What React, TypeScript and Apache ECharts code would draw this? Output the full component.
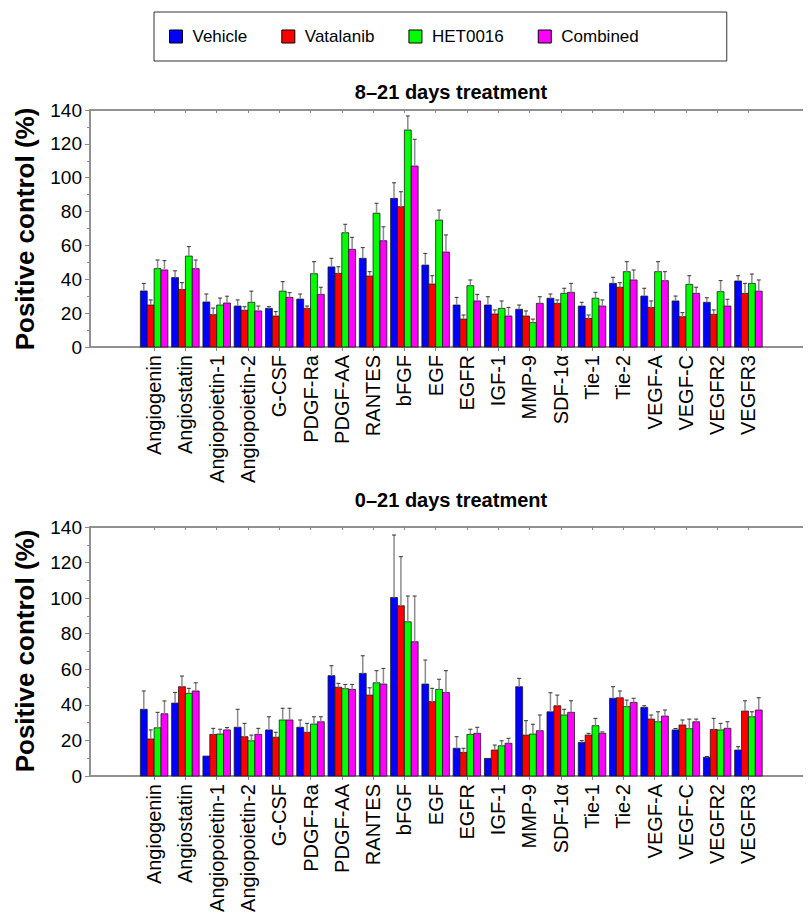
import React, { useEffect, useRef } from 'react';
import * as echarts from 'echarts';

const FONT = '"Liberation Sans", Arial, Helvetica, sans-serif';

const CATEGORIES = [
  'Angiogenin', 'Angiostatin', 'Angiopoietin-1', 'Angiopoietin-2', 'G-CSF',
  'PDGF-Ra', 'PDGF-AA', 'RANTES', 'bFGF', 'EGF', 'EGFR', 'IGF-1', 'MMP-9',
  'SDF-1\u03b1', 'Tie-1', 'Tie-2', 'VEGF-A', 'VEGF-C', 'VEGFR2', 'VEGFR3',
];

const SERIES_NAMES = ['Vehicle', 'Vatalanib', 'HET0016', 'Combined'];
const SERIES_COLORS = ['#0000ff', '#ff0000', '#00ff00', '#ff00ff'];

const TOP_TITLE = '8\u201321 days treatment';
const BOTTOM_TITLE = '0\u201321 days treatment';
const Y_NAME = 'Positive control (%)';

// 8–21 days treatment
const TOP_VEHICLE = [33.1, 41, 26.6, 24.2, 22.8, 28.3, 47.3, 52.4, 87.8, 48.4, 24.8, 24.8, 22.3, 28.8, 24.2, 37.6, 30.1, 27.2, 26.4, 39];
const TOP_VEHICLE_ERR = [4.5, 4, 4.7, 3.6, 1, 3, 5.1, 6.3, 9.2, 6.9, 4.5, 4.9, 2.5, 2.5, 2.2, 3.6, 4.6, 2.9, 2.7, 3.1];
const TOP_VATALANIB = [24.8, 34, 19.1, 21.7, 18.3, 22.8, 43.5, 41.9, 82.9, 37.2, 16.5, 19.5, 18.3, 25.8, 16.9, 35.3, 23.4, 17.9, 19.3, 31.7];
const TOP_VATALANIB_ERR = [3, 4, 3.9, 2.1, 2.6, 1.4, 3.9, 2.6, 8.8, 4.9, 2.4, 2.4, 3, 2, 2, 2.7, 3.8, 2.4, 2.6, 5.9];
const TOP_HET = [46.3, 53.7, 24.8, 26.4, 33, 43.3, 67.5, 79, 128.2, 75, 36.2, 22.8, 14.4, 31.7, 28.8, 44.5, 44.5, 37, 32.7, 37.6];
const TOP_HET_ERR = [5.1, 5.6, 4.1, 6.6, 5.6, 7.1, 5, 5.9, 8.3, 5.9, 3.4, 4.4, 2.1, 3, 3.5, 5.9, 5.9, 5.1, 6.5, 5.5];
const TOP_COMBINED = [45.5, 46.3, 26, 21.3, 29.3, 31.1, 57.7, 62.8, 106.9, 56.1, 27.2, 18.3, 25.8, 32.3, 24.2, 39.6, 39.2, 31.7, 24.2, 33];
const TOP_COMBINED_ERR = [5.5, 5.1, 4, 2.9, 2.8, 4.2, 7.1, 8.2, 15.8, 10.1, 3.9, 5.1, 3.9, 5.3, 3.6, 5.9, 5.3, 3.6, 4, 6.6];

// 0–21 days treatment
const BOT_VEHICLE = [37.5, 41, 11.2, 27.4, 25.9, 27.4, 56.4, 57.7, 100.4, 51.7, 15.6, 9.9, 50.2, 36.1, 18.9, 43.7, 38.6, 25.9, 10.5, 14.6];
const BOT_VEHICLE_ERR = [10.3, 6, 0, 10.1, 7.4, 4.1, 5.6, 9.9, 35.1, 13.5, 6.5, 0, 4.7, 10.7, 1, 6.5, 0.9, 0.8, 0.5, 1.9];
const BOT_VATALANIB = [20.8, 50.2, 23.4, 22.1, 21.8, 24.6, 49.9, 45.5, 95.7, 41.8, 13.3, 14.6, 23, 39.5, 23, 44, 32, 28.7, 26.2, 36.5];
const BOT_VATALANIB_ERR = [5.1, 6, 3.4, 7.5, 2.8, 5, 2.2, 4.1, 27.6, 7.5, 2.3, 2.8, 8.1, 6, 1, 3.8, 2.3, 2.8, 6.2, 5.8];
const BOT_HET = [27.1, 46.5, 23.6, 19.8, 31.5, 29.2, 49.1, 52.4, 86.7, 48.7, 23.4, 17, 23.6, 34.3, 28.3, 39, 30.5, 26.6, 25.9, 33.3];
const BOT_HET_ERR = [8.7, 2.8, 2.7, 3.2, 6.6, 4.1, 2.4, 6.8, 14.5, 5.7, 2.9, 2.8, 5.5, 3.2, 4.1, 3.7, 5.6, 5.4, 3.7, 2.8];
const BOT_COMBINED = [35, 47.8, 25.9, 23.4, 31.5, 30.5, 48.7, 51.7, 75.5, 47, 24, 18.4, 25.5, 35.8, 24, 41.4, 33.7, 30.5, 26.8, 37.1];
const BOT_COMBINED_ERR = [7.2, 4.6, 1.3, 3.4, 6.6, 2.8, 2.8, 8.8, 25.7, 12.2, 3.4, 2.8, 8.8, 6.5, 0.8, 2.3, 3.4, 1.5, 3.7, 6.9];

const TOP_VALUES = [TOP_VEHICLE, TOP_VATALANIB, TOP_HET, TOP_COMBINED];
const TOP_ERRS = [TOP_VEHICLE_ERR, TOP_VATALANIB_ERR, TOP_HET_ERR, TOP_COMBINED_ERR];
const BOT_VALUES = [BOT_VEHICLE, BOT_VATALANIB, BOT_HET, BOT_COMBINED];
const BOT_ERRS = [BOT_VEHICLE_ERR, BOT_VATALANIB_ERR, BOT_HET_ERR, BOT_COMBINED_ERR];

const IDX = CATEGORIES.map((_, i) => i);
const BW = 0.22;
const X_MIN = -2.05;
const X_MAX = 21;
const AXIS_COLOR = '#8a8a8a';

function makeSeries(values: number[][], errs: number[][], xAxisIndex: number, yAxisIndex: number) {
  return values.map((vals, k) => ({
    type: 'custom',
    name: SERIES_NAMES[k],
    xAxisIndex,
    yAxisIndex,
    itemStyle: { color: SERIES_COLORS[k], borderColor: '#000', borderWidth: 1 },
    encode: { x: 0, y: 1 },
    data: vals.map((v, i) => [i, v, errs[k][i]]),
    renderItem: (params: any, api: any) => {
      const x = api.value(0);
      const v = api.value(1);
      const e = api.value(2);
      const cx = x + (k - 1.5) * BW;
      const tl = api.coord([cx - BW / 2, v]);
      const br = api.coord([cx + BW / 2, 0]);
      const mid = (tl[0] + br[0]) / 2;
      const children: any[] = [
        {
          type: 'rect',
          shape: { x: tl[0], y: tl[1], width: br[0] - tl[0], height: br[1] - tl[1] },
          style: { fill: SERIES_COLORS[k], stroke: '#1a1a1a', lineWidth: 0.8 },
        },
      ];
      if (e > 0) {
        const top = api.coord([cx, v + e]);
        children.push({
          type: 'line',
          shape: { x1: mid, y1: tl[1], x2: mid, y2: top[1] },
          style: { stroke: '#8c8c8c', lineWidth: 1.5 },
        });
        children.push({
          type: 'line',
          shape: { x1: mid - 2, y1: top[1], x2: mid + 2, y2: top[1] },
          style: { stroke: '#333', lineWidth: 1 },
        });
      }
      return { type: 'group', children };
    },
  }));
}

function makeXAxes(gridIndex: number) {
  return [
    {
      type: 'value',
      gridIndex,
      min: X_MIN,
      max: X_MAX,
      position: 'bottom',
      axisLine: { show: true, onZero: false, lineStyle: { color: AXIS_COLOR, width: 1.5 } },
      axisTick: { show: true, customValues: IDX, length: 4, lineStyle: { color: AXIS_COLOR } },
      axisLabel: {
        customValues: IDX,
        rotate: 90,
        fontSize: 20,
        fontFamily: FONT,
        color: '#000',
        margin: 8,
        formatter: (v: number) => CATEGORIES[Math.round(v)] ?? '',
      },
      splitLine: { show: false },
    },
    {
      type: 'value',
      gridIndex,
      min: X_MIN,
      max: X_MAX,
      position: 'top',
      axisLine: { show: true, onZero: false, lineStyle: { color: AXIS_COLOR, width: 1.5 } },
      axisTick: { show: true, inside: true, customValues: IDX, length: 3, lineStyle: { color: AXIS_COLOR } },
      axisLabel: { show: false },
      splitLine: { show: false },
    },
  ];
}

function makeYAxis(gridIndex: number) {
  return {
    type: 'value',
    gridIndex,
    min: 0,
    max: 140,
    interval: 20,
    position: 'left',
    axisLine: { show: true, onZero: false, lineStyle: { color: AXIS_COLOR, width: 1.5 } },
    axisTick: { show: true, length: 5, lineStyle: { color: AXIS_COLOR } },
    minorTick: { show: true, splitNumber: 2, length: 3, lineStyle: { color: AXIS_COLOR } },
    axisLabel: { fontSize: 19, fontFamily: FONT, color: '#000', margin: 8 },
    splitLine: { show: false },
  };
}

export default function App() {
  const ref = useRef<HTMLDivElement>(null);
  useEffect(() => {
    if (!ref.current) return;
    const chart = echarts.init(ref.current, null, { renderer: 'svg' });
    const option: any = {
      animation: false,
      backgroundColor: '#fff',
      textStyle: { fontFamily: FONT },
      legend: {
        data: SERIES_NAMES,
        left: 146,
        top: 4,
        orient: 'horizontal',
        icon: 'rect',
        itemWidth: 13,
        itemHeight: 13,
        itemGap: 34,
        padding: [16, 88, 16, 15],
        borderColor: '#333',
        borderWidth: 1,
        itemStyle: { borderColor: '#000', borderWidth: 1 },
        textStyle: { fontSize: 17, fontFamily: FONT, color: '#000', padding: [0, 0, 0, 5] },
      },
      grid: [
        { left: 82, top: 102, width: 728, height: 237, show: true, borderColor: AXIS_COLOR, borderWidth: 1.5, backgroundColor: 'transparent' },
        { left: 82, top: 519, width: 728, height: 249, show: true, borderColor: AXIS_COLOR, borderWidth: 1.5, backgroundColor: 'transparent' },
      ],
      xAxis: [...makeXAxes(0), ...makeXAxes(1)],
      yAxis: [makeYAxis(0), makeYAxis(1)],
      series: [...makeSeries(TOP_VALUES, TOP_ERRS, 0, 0), ...makeSeries(BOT_VALUES, BOT_ERRS, 2, 1)],
      graphic: [
        {
          type: 'text', x: 443, y: 84,
          style: { text: TOP_TITLE, font: `bold 20px ${FONT}`, fill: '#000', textAlign: 'center', textVerticalAlign: 'middle' },
        },
        {
          type: 'text', x: 443, y: 492,
          style: { text: BOTTOM_TITLE, font: `bold 20px ${FONT}`, fill: '#000', textAlign: 'center', textVerticalAlign: 'middle' },
        },
        {
          type: 'text', x: 17, y: 221, rotation: Math.PI / 2,
          style: { text: Y_NAME, font: `bold 26px ${FONT}`, fill: '#000', textAlign: 'center', textVerticalAlign: 'middle' },
        },
        {
          type: 'text', x: 17, y: 643, rotation: Math.PI / 2,
          style: { text: Y_NAME, font: `bold 26px ${FONT}`, fill: '#000', textAlign: 'center', textVerticalAlign: 'middle' },
        },
      ],
    };
    chart.setOption(option);
    return () => chart.dispose();
  }, []);
  return <div ref={ref} style={{ width: 803, height: 913 }} />;
}
